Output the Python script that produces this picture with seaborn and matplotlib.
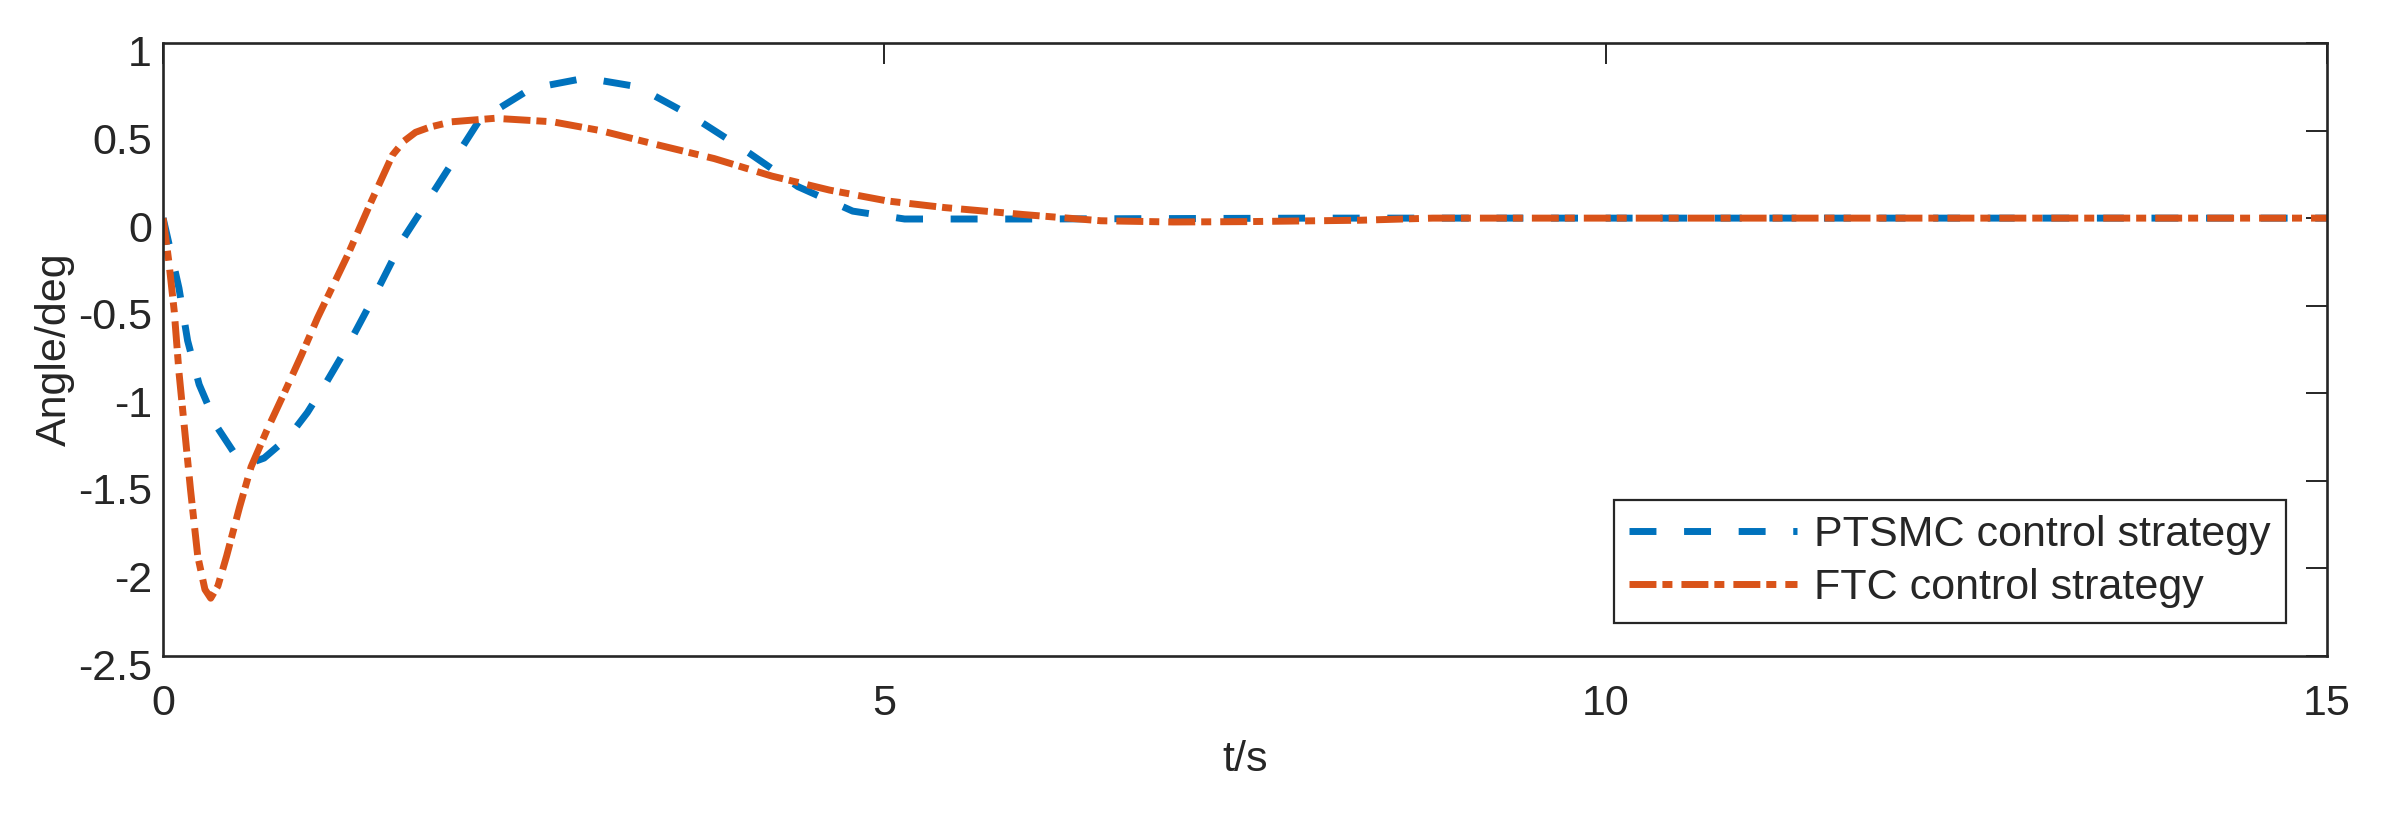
import matplotlib
matplotlib.use("Agg")
import matplotlib.pyplot as plt
import matplotlib.transforms as mtransforms
import seaborn as sns
import pandas as pd

# curves
t_ptsmc = [0.0, 0.05, 0.11, 0.17, 0.25, 0.38, 0.5, 0.6, 0.7, 0.87, 1.0, 1.13, 1.28,
           1.48, 1.67, 1.89, 2.19, 2.55, 2.93, 3.29, 3.67, 4.04, 4.4, 4.78, 5.14,
           6.0, 8.0, 10.0, 12.0, 15.0]
ang_ptsmc = [0.0, -0.18, -0.4, -0.7, -0.95, -1.2, -1.35, -1.4, -1.37, -1.25, -1.11, -0.94, -0.73,
             -0.42, -0.11, 0.17, 0.556, 0.74, 0.8, 0.75, 0.58, 0.384, 0.18, 0.04, -0.005,
             -0.005, 0.0, 0.0, 0.0, 0.0]

t_ftc = [0.0, 0.04, 0.077, 0.11, 0.19, 0.24, 0.29, 0.33, 0.38, 0.44, 0.53, 0.61, 0.72,
         0.85, 0.96, 1.07, 1.28, 1.44, 1.59, 1.67, 1.75, 1.85, 2.0, 2.3, 2.7, 3.03, 3.42, 3.82,
         4.22, 4.62, 5.02, 5.42, 5.97, 6.5, 7.0, 7.5, 8.3, 8.8, 10.0, 12.0, 15.0]
ang_ftc = [0.0, -0.25, -0.53, -0.88, -1.55, -1.93, -2.12, -2.17, -2.1, -1.93, -1.65, -1.42, -1.21,
           -0.98, -0.78, -0.57, -0.21, 0.09, 0.36, 0.44, 0.49, 0.52, 0.55, 0.57, 0.55, 0.5, 0.42, 0.34,
           0.24, 0.16, 0.098, 0.06, 0.02, -0.015, -0.022, -0.02, -0.012, 0.0, 0.0, 0.0, 0.0]

x_ticks = [0, 5, 10, 15]
y_ticks = [-2.5, -2, -1.5, -1, -0.5, 0, 0.5, 1]
y_tick_labels = ["-2.5", "-2", "-1.5", "-1", "-0.5", "0", "0.5", "1"]

labels = ["PTSMC control strategy", "FTC control strategy"]
colores = ["#0072BD", "#D95319"]

sns.set_theme(style="white")
plt.rcParams["font.family"] = ["Liberation Sans", "DejaVu Sans"]
plt.rcParams["axes.unicode_minus"] = False
plt.rcParams["lines.scale_dashes"] = False
texto = "#262626"
fs = 31

fig = plt.figure(figsize=(23.88, 8.14), dpi=100)
ax = fig.add_axes([0.0683, 0.1941, 0.9062, 0.7531])

df1 = pd.DataFrame({"t": t_ptsmc, "ang": ang_ptsmc})
df2 = pd.DataFrame({"t": t_ftc, "ang": ang_ftc})

sns.lineplot(data=df1, x="t", y="ang", color=colores[0], linewidth=5, label=labels[0], ax=ax)
ax.lines[-1].set_dashes([19.4, 19.9])
sns.lineplot(data=df2, x="t", y="ang", color=colores[1], linewidth=5, label=labels[1], ax=ax)
ax.lines[-1].set_dashes([19.4, 4.3, 7.2, 6.5])

ax.set_xlim(0, 15)
ax.set_ylim(-2.5, 1)
ax.set_xticks(x_ticks)
ax.set_xticklabels([str(v) for v in x_ticks])
ax.set_yticks(y_ticks)
ax.set_yticklabels(y_tick_labels)

ax.tick_params(axis="both", direction="in", top=True, right=True, length=15, width=1.4,
               color=texto, labelsize=fs, labelcolor=texto)
ax.tick_params(axis="x", pad=20)
ax.tick_params(axis="y", pad=8)

# matlab draws the y labels a little under their ticks
bajar = mtransforms.ScaledTranslation(0, -8 / 100, fig.dpi_scale_trans)
for lab in ax.get_yticklabels():
    lab.set_transform(lab.get_transform() + bajar)

for s in ax.spines.values():
    s.set_visible(True)
    s.set_color(texto)
    s.set_linewidth(1.9)

ax.set_xlabel("t/s", fontsize=fs, color=texto, labelpad=12)
ax.set_ylabel("Angle/deg", fontsize=fs, color=texto, labelpad=2)

leg = ax.legend(loc="lower right", bbox_to_anchor=(0.981, 0.054), fontsize=fs,
                handlelength=3.9, handletextpad=0.4, labelspacing=0.3, borderpad=0.35,
                borderaxespad=0, fancybox=False, framealpha=1, edgecolor=texto)
leg.get_frame().set_linewidth(1.6)
for tx in leg.get_texts():
    tx.set_color(texto)

fig.savefig("out.png", dpi=100)
